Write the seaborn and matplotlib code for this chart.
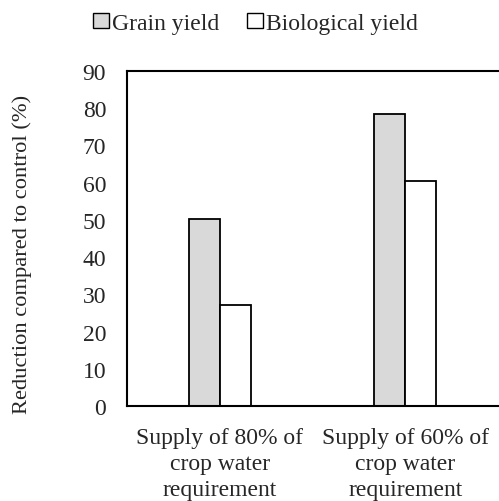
import pandas as pd
import seaborn as sns
import matplotlib.pyplot as plt

treatments = ["Supply of 80% of\ncrop water\nrequirement", "Supply of 60% of\ncrop water\nrequirement"]
grain_yield = [50.3, 78.4]
biological_yield = [27.2, 60.4]

df = pd.DataFrame({
    "Treatment": treatments * 2,
    "Reduction": grain_yield + biological_yield,
    "Trait": ["Grain yield"] * 2 + ["Biological yield"] * 2,
})

sns.set_style("white")
plt.rcParams["font.family"] = ["Liberation Serif", "DejaVu Serif"]
plt.rcParams["font.size"] = 17

fig = plt.figure(figsize=(4.99, 5.02), dpi=100)
ax = fig.add_axes([0.2545, 0.189, 0.76, 0.668])
sns.barplot(data=df, x="Treatment", y="Reduction", hue="Trait",
            palette={"Grain yield": "#d9d9d9", "Biological yield": "white"},
            width=0.333, edgecolor="black", linewidth=1.3, ax=ax, legend=False)
ax.set_ylim(0, 90)
ax.set_yticks(range(0, 91, 10))
ax.set_xlim(-0.5, 1.545)
ax.set_xlabel("")
ax.set_ylabel("Reduction compared to control (%)", fontsize=16.2)
ax.yaxis.set_label_coords(-0.25, 0.454)
ax.tick_params(axis="both", length=0, labelsize=17)
ax.tick_params(axis="y", pad=15)
ax.tick_params(axis="x", pad=15)
for lab in ax.get_xticklabels():
    lab.set_multialignment("center")
    lab.set_linespacing(1.3)
for s in ["left", "bottom", "top"]:
    ax.spines[s].set_linewidth(1.5)
    ax.spines[s].set_color("black")
ax.spines["right"].set_visible(False)

handles = [plt.Rectangle((0, 0), 1, 1, facecolor=c, edgecolor="black", linewidth=1)
           for c in ["#d9d9d9", "white"]]
fig.legend(handles, ["Grain yield", "Biological yield"], loc="center",
           bbox_to_anchor=(0.512, 0.951), ncol=2, frameon=False, fontsize=17,
           handlelength=0.68, handleheight=0.6, handletextpad=0.15, columnspacing=1.15)

fig.savefig("out.png", dpi=100)
